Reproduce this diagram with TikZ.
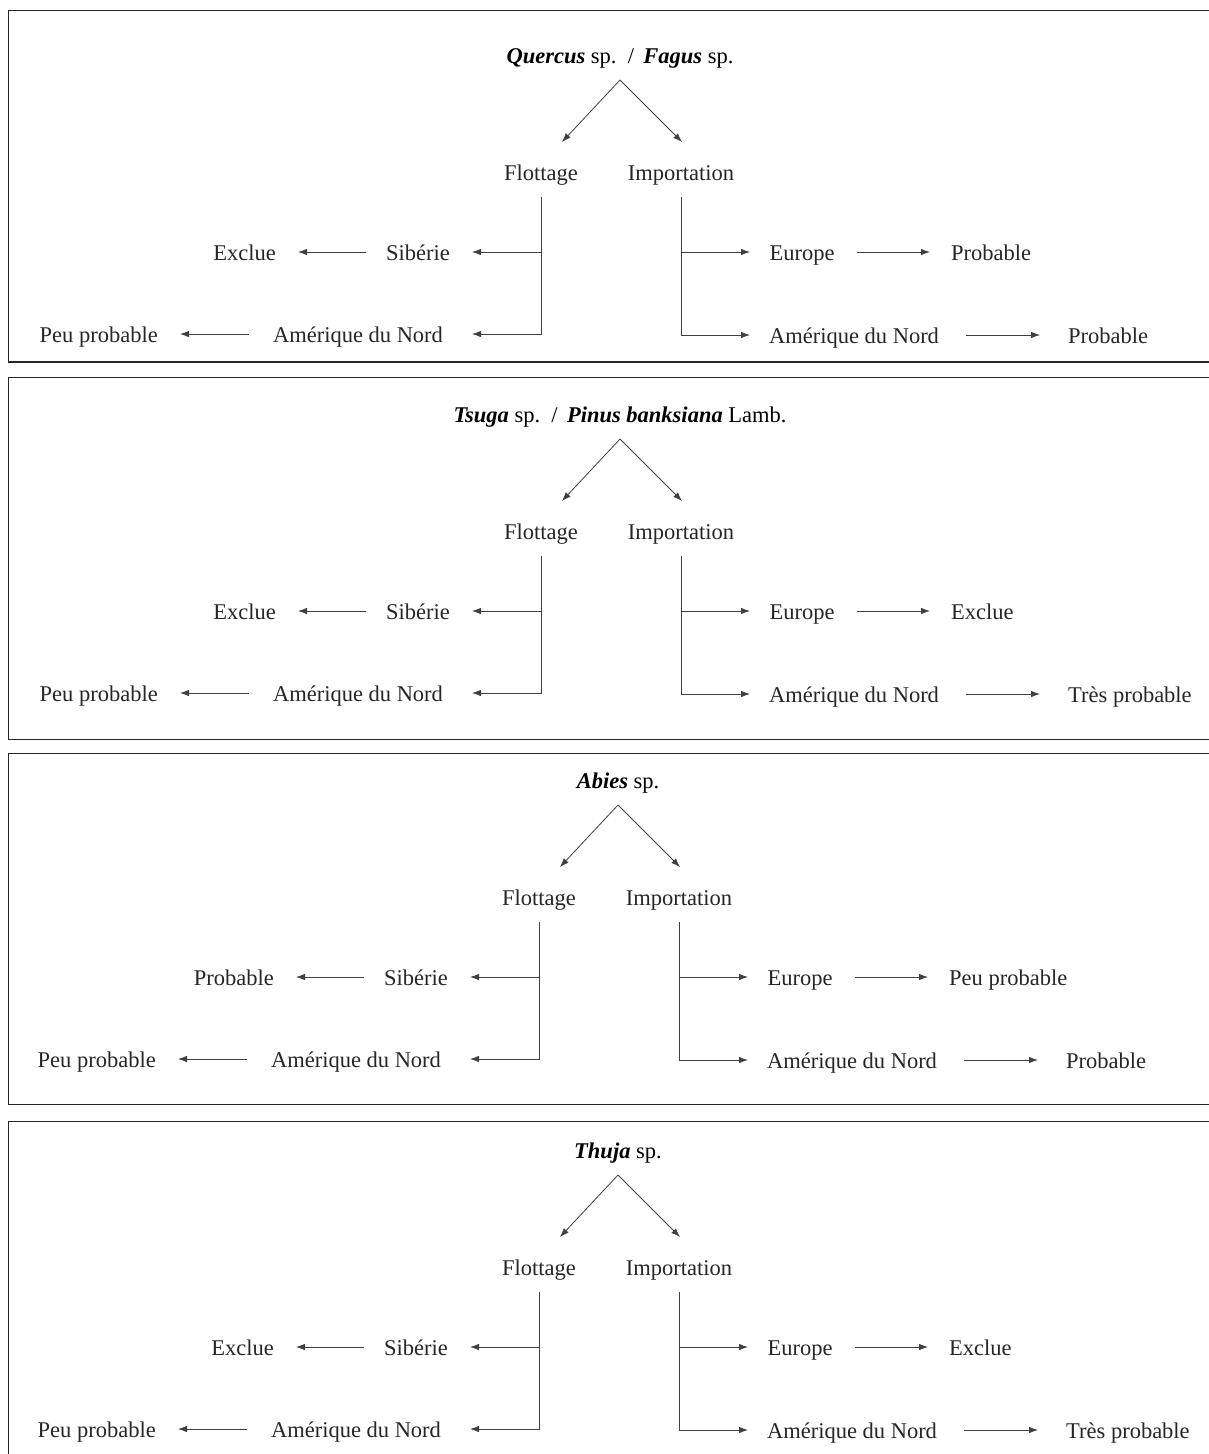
\documentclass[tikz,border=0pt]{standalone}
\usepackage{fontspec}
\setmainfont{Liberation Serif}
\usetikzlibrary{arrows.meta}
\tikzset{
  lbl/.style={font=\fontsize{22.5}{27}\selectfont, inner sep=0pt, text height=16pt, text depth=0pt, text=black!85},
  ttl/.style={font=\fontsize{22.5}{27}\selectfont, inner sep=0pt, text=black},
  conn/.style={draw=black!75, line width=0.8pt},
  arr/.style={conn, -{Latex[length=9pt,width=6.5pt]}},
  frame/.style={draw=black!85, line width=1.4pt}
}
\newcommand\panneau[7]{%
  \begin{scope}[shift={(#2,#3)}]
    \node[ttl, anchor=base] (#1-t) at (620,-109) {#4};
    \coordinate (#1-ap) at (620,-92);
    \coordinate (#1-tl) at (562,-30);
    \coordinate (#1-tr) at (682,-30);
    \node[lbl, anchor=base] (#1-f) at (541,8) {Flottage};
    \node[lbl, anchor=base] (#1-i) at (681,8) {Importation};
    \draw[arr] (#1-ap) -- (#1-tl);
    \draw[arr] (#1-ap) -- (#1-tr);
    % left
    \node[lbl, anchor=base] (#1-sib) at (418,88) {Sibérie};
    \node[lbl, anchor=base east] (#1-r1) at (276,88) {#5};
    \node[lbl, anchor=base] (#1-al) at (358,170) {Amérique du Nord};
    \node[lbl, anchor=base east] (#1-rl) at (158,170) {Peu probable};
    \coordinate (#1-ts) at (472,80);
    \coordinate (#1-ta) at (472,162);
    \draw[arr] (#1-f.south) ++(0,17) |- (#1-ts);
    \draw[arr] (#1-f.south) ++(0,17) |- (#1-ta);
    \draw[arr, shorten <=20pt, shorten >=22pt] (#1-sib.west) -- (#1-r1.east);
    \draw[arr, shorten <=24pt, shorten >=22pt] (#1-al.west) -- (#1-rl.east);
    % right
    \node[lbl, anchor=base] (#1-eu) at (802,88) {Europe};
    \node[lbl, anchor=base west] (#1-r2) at (951,88) {#6};
    \node[lbl, anchor=base] (#1-ar) at (854,171) {Amérique du Nord};
    \node[lbl, anchor=base west] (#1-r3) at (1068,171) {#7};
    \coordinate (#1-te) at (750,80);
    \coordinate (#1-tn) at (750,163);
    \draw[arr] (#1-i.south) ++(0,17) |- (#1-te);
    \draw[arr] (#1-i.south) ++(0,17) |- (#1-tn);
    \draw[arr, shorten <=22pt, shorten >=21pt] (#1-eu.east) -- (#1-r2.west);
    \draw[arr, shorten <=27pt, shorten >=28pt] (#1-ar.east) -- (#1-r3.west);
  \end{scope}}
\begin{document}
\begin{tikzpicture}[x=1pt,y=-1pt]
  \useasboundingbox[fill=white] (0,0) rectangle (1208,1454);
  \draw[frame] (8.5,10.5) rectangle (1216,362);
  \draw[frame] (8.5,377.5) rectangle (1216,739.5);
  \draw[frame] (8.5,753.5) rectangle (1216,1104.5);
  \draw[frame] (8.5,1121.5) rectangle (1216,1470);
  \panneau{p1}{0}{172}{{\bfseries\itshape Quercus} sp. \,/\, {\bfseries\itshape Fagus} sp.}{Exclue}{Probable}{Probable}
  \panneau{p2}{0}{531}{{\bfseries\itshape Tsuga} sp. \,/\, {\bfseries\itshape Pinus banksiana} Lamb.}{Exclue}{Exclue}{Très probable}
  \panneau{p3}{-2}{897}{{\bfseries\itshape Abies} sp.}{Probable}{Peu probable}{Probable}
  \panneau{p4}{-2}{1267}{{\bfseries\itshape Thuja} sp.}{Exclue}{Exclue}{Très probable}
\end{tikzpicture}
\end{document}
